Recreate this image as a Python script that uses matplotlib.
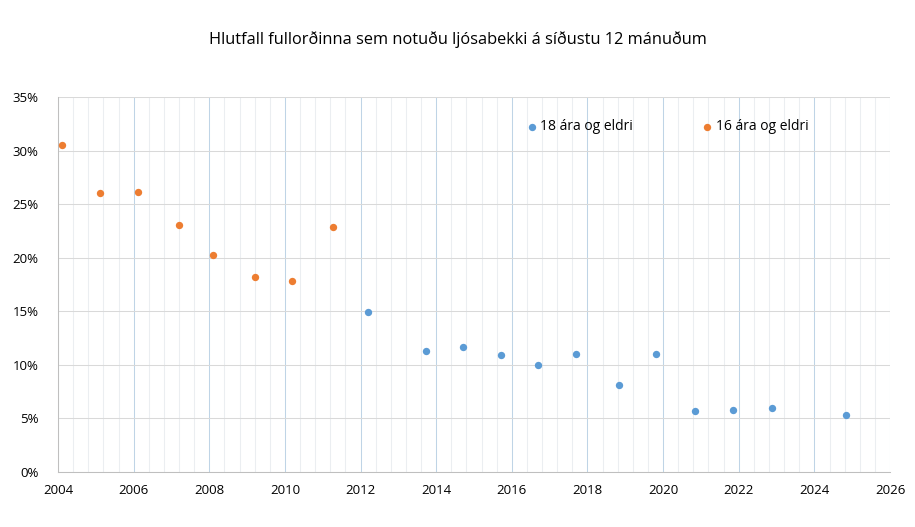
import numpy as np
import matplotlib.pyplot as plt
from matplotlib.ticker import MultipleLocator, FixedLocator, PercentFormatter

plt.rcParams['font.family'] = ['Open Sans', 'DejaVu Sans']

# 16 ára og eldri (eldri mælingar)
years_16 = [2004.1, 2005.11, 2006.12, 2007.2, 2008.1, 2009.2, 2010.19, 2011.27]
pct_16 = [30.5, 26.0, 26.1, 23.05, 20.25, 18.2, 17.8, 22.9]

# 18 ára og eldri
years_18 = [2012.2, 2013.73, 2014.71, 2015.71, 2016.69, 2017.7, 2018.83,
            2019.81, 2020.84, 2021.85, 2022.88, 2024.84]
pct_18 = [14.9, 11.3, 11.7, 10.9, 10.0, 11.0, 8.1, 11.0, 5.7, 5.8, 6.0, 5.3]

title = 'Hlutfall fullorðinna sem notuðu ljósabekki á síðustu 12 mánuðum'

fig = plt.figure(figsize=(9.15, 5.27), dpi=100)
ax = fig.add_axes([0.0634, 0.1044, 0.9093, 0.7116])

ax.scatter(years_18, pct_18, s=28, color='#5B9BD5', label='18 ára og eldri', zorder=3, linewidths=0)
ax.scatter(years_16, pct_16, s=28, color='#ED7D31', label='16 ára og eldri', zorder=3, linewidths=0)

ax.set_xlim(2004, 2026)
ax.set_ylim(0, 35)
ax.xaxis.set_major_locator(MultipleLocator(2))
# minor grid every 0.4 year, skipping the even years where the major lines sit
minor = np.round(np.arange(2004, 2026.01, 0.4), 2)
minor = [m for m in minor if abs(m / 2 - round(m / 2)) > 0.01]
ax.xaxis.set_minor_locator(FixedLocator(minor))
ax.yaxis.set_major_locator(MultipleLocator(5))
ax.yaxis.set_major_formatter(PercentFormatter(decimals=0))

ax.grid(which='minor', axis='x', color='#EBEEF1', linewidth=0.75)
ax.grid(which='major', axis='x', color='#BFD4E6', linewidth=0.75)
ax.grid(which='major', axis='y', color='#D9D9D9', linewidth=0.75)
ax.set_axisbelow(True)

for side in ['top', 'right']:
    ax.spines[side].set_visible(False)
for side in ['left', 'bottom']:
    ax.spines[side].set_color('#BFBFBF')
    ax.spines[side].set_linewidth(0.75)

ax.tick_params(which='both', length=0, labelsize=9.5, colors='#000000')
ax.tick_params(axis='x', pad=9)
ax.tick_params(axis='y', pad=14)

ax.legend(loc='upper left', bbox_to_anchor=(0.5586, 0.955), ncol=2, frameon=False,
          fontsize=10, handlelength=0.5, handletextpad=0.35, columnspacing=5.1,
          markerscale=1.0, borderaxespad=0)

fig.text(0.5, 0.925, title, ha='center', va='center', fontsize=11.75)

fig.savefig('out.png', dpi=100)
